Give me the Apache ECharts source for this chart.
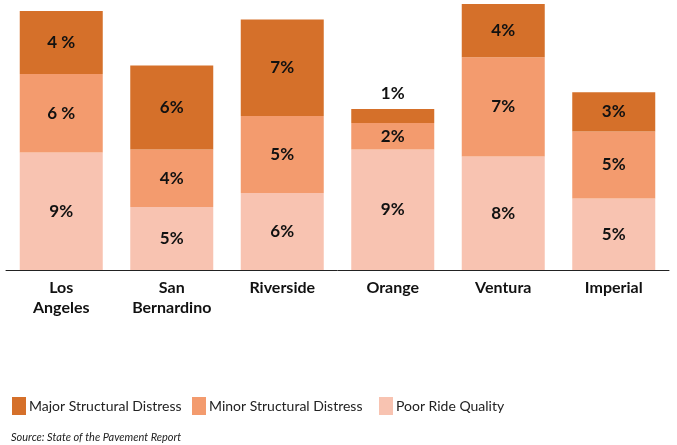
<!DOCTYPE html>
<html>
<head>
    <meta charset="UTF-8">
    <title>Pavement condition by county</title>
    <script src="https://cdn.jsdelivr.net/npm/echarts@6.0.0/dist/echarts.min.js"></script>
    <style>
        html, body { margin: 0; padding: 0; background: #fff; }
        #chart { width: 677px; height: 445px; }
    </style>
</head>
<body>
    <div id="chart"></div>
    <script>
        // counties
        const counties = ['Los\nAngeles', 'San\nBernardino', 'Riverside', 'Orange', 'Ventura', 'Imperial'];

        // share of lane miles
        const poorRide = [8.4, 4.5, 5.5, 8.6, 8.1, 5.1];
        const minorDistress = [5.6, 4.1, 5.5, 1.9, 7.1, 4.8];
        const majorDistress = [4.5, 6.0, 6.9, 1.0, 4.0, 2.8];

        // printed labels (rounded in the report)
        const poorLabels = ['9%', '5%', '6%', '9%', '8%', '5%'];
        const minorLabels = ['6 %', '4%', '5%', '2%', '7%', '5%'];
        const majorLabels = ['4 %', '6%', '7%', '1%', '4%', '3%'];

        const colors = {
            major: '#D5702A',
            minor: '#F39B6E',
            poor: '#F8C3B1'
        };

        const chart = echarts.init(document.getElementById('chart'));

        function labelFor(texts) {
            return {
                show: true,
                position: 'inside',
                color: '#111',
                fontFamily: 'Lato',
                fontWeight: 'bold',
                fontSize: 17,
                formatter: p => texts[p.dataIndex]
            };
        }

        const majorData = majorDistress.map((v, i) => {
            if (counties[i] === 'Orange') {
                return { value: v, label: { position: 'top', distance: 7 } };
            }
            return v;
        });

        const legendText = { fontFamily: 'Lato', fontSize: 14, color: '#222', padding: [0, 0, 0, -2] };

        const option = {
            animation: false,
            title: {
                text: 'Source: State of the Pavement Report',
                left: 6,
                top: 427,
                textStyle: {
                    fontFamily: 'Lato',
                    fontStyle: 'italic',
                    fontWeight: 'normal',
                    fontSize: 11,
                    color: '#222'
                }
            },
            legend: [
                { data: ['Major Structural Distress'], left: 12, top: 397, itemWidth: 14, itemHeight: 18, icon: 'rect', textStyle: legendText, padding: 0 },
                { data: ['Minor Structural Distress'], left: 192, top: 397, itemWidth: 14, itemHeight: 18, icon: 'rect', textStyle: legendText, padding: 0 },
                { data: ['Poor Ride Quality'], left: 379, top: 397, itemWidth: 14, itemHeight: 18, icon: 'rect', textStyle: legendText, padding: 0 }
            ],
            grid: {
                left: 6,
                right: 8,
                top: 4,
                height: 266
            },
            xAxis: {
                type: 'category',
                data: counties,
                axisTick: { show: false },
                axisLine: { lineStyle: { color: '#222', width: 1 } },
                axisLabel: {
                    color: '#111',
                    fontFamily: 'Lato',
                    fontWeight: 'bold',
                    fontSize: 16,
                    lineHeight: 20,
                    margin: 8
                }
            },
            yAxis: {
                type: 'value',
                min: 0,
                max: 19,
                show: false
            },
            series: [
                {
                    name: 'Poor Ride Quality',
                    type: 'bar',
                    stack: 'total',
                    barWidth: 83,
                    data: poorRide,
                    itemStyle: { color: colors.poor },
                    label: labelFor(poorLabels)
                },
                {
                    name: 'Minor Structural Distress',
                    type: 'bar',
                    stack: 'total',
                    barWidth: 83,
                    data: minorDistress,
                    itemStyle: { color: colors.minor },
                    label: labelFor(minorLabels)
                },
                {
                    name: 'Major Structural Distress',
                    type: 'bar',
                    stack: 'total',
                    barWidth: 83,
                    data: majorData,
                    itemStyle: { color: colors.major },
                    label: labelFor(majorLabels)
                }
            ]
        };

        chart.setOption(option);
    </script>
</body>
</html>
